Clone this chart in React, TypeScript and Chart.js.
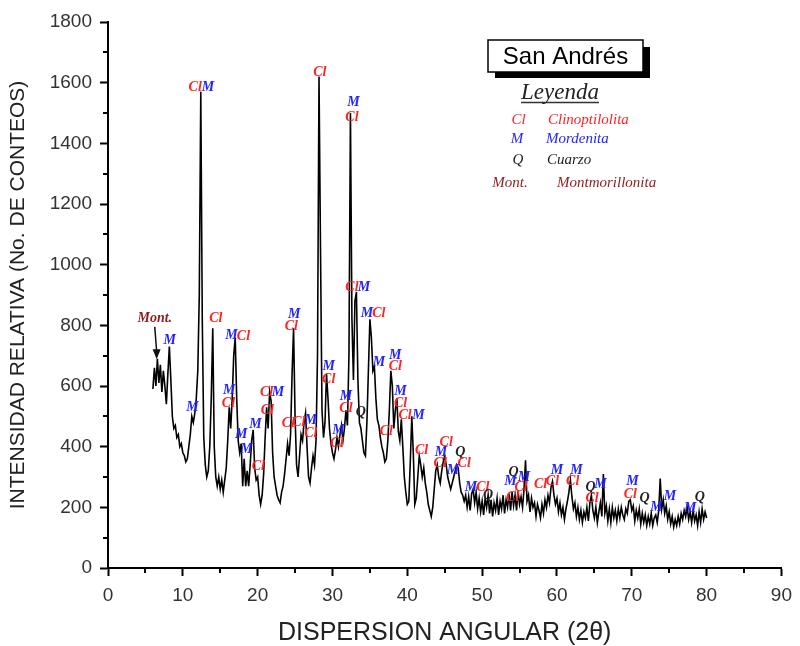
import React, { useEffect, useRef } from 'react';
import { Chart, registerables } from 'chart.js';

Chart.register(...registerables);

// XRD scan: start angle and step (2θ), counts, one row = 2°
const scanStart = 6.0;
const scanStep = 0.2;
const counts: number[] = [
  590, 660, 600, 690, 610, 670, 580, 650, 600, 540, // 6
  640, 730, 620, 500, 460, 470, 430, 440, 400, 410, // 8
  380, 370, 350, 360, 400, 440, 500, 480, 510, 560, // 10
  650, 900, 1570, 820, 430, 340, 300, 320, 400, 560, // 12
  790, 400, 300, 270, 300, 260, 290, 250, 290, 330, // 14
  420, 530, 460, 560, 700, 760, 560, 420, 380, 410, // 16
  270, 360, 270, 320, 270, 340, 420, 455, 330, 290, // 18
  300, 240, 210, 240, 310, 430, 530, 460, 580, 550, // 20
  380, 300, 270, 240, 225, 215, 250, 270, 310, 360, // 22
  410, 370, 440, 640, 790, 500, 340, 300, 370, 440, // 24
  420, 480, 510, 400, 300, 280, 330, 370, 340, 420, // 26
  700, 1620, 1050, 520, 430, 480, 640, 560, 460, 410, // 28
  380, 360, 390, 430, 400, 440, 470, 420, 460, 520, // 30
  470, 700, 1500, 820, 620, 880, 910, 620, 480, 460, // 32
  420, 380, 370, 480, 650, 820, 760, 650, 665, 560, // 34
  490, 470, 430, 400, 380, 350, 360, 420, 520, 650, // 36
  600, 460, 520, 560, 450, 420, 490, 400, 300, 250, // 38
  210, 220, 350, 500, 380, 210, 230, 300, 370, 340, // 40
  300, 330, 280, 250, 210, 190, 170, 200, 260, 320, // 42
  340, 300, 280, 320, 350, 370, 340, 300, 280, 260, // 44
  280, 300, 320, 340, 330, 280, 250, 240, 220, 240, // 46
  200, 235, 190, 245, 260, 215, 250, 195, 230, 185, // 48
  220, 175, 230, 200, 240, 180, 225, 170, 215, 190, // 50
  230, 175, 220, 195, 240, 180, 225, 200, 245, 190, // 52
  250, 205, 240, 190, 255, 210, 235, 200, 260, 355, // 54
  220, 240, 185, 230, 200, 215, 170, 210, 190, 165, // 56
  210, 180, 225, 200, 240, 215, 265, 285, 240, 210, // 58
  230, 185, 215, 175, 200, 160, 195, 220, 250, 290, // 60
  235, 195, 215, 170, 200, 160, 190, 150, 185, 165, // 62
  200, 155, 215, 240, 190, 165, 200, 150, 185, 215, // 64
  170, 310, 180, 205, 155, 195, 150, 200, 165, 190, // 66
  155, 195, 165, 200, 175, 160, 195, 180, 220, 225, // 68
  190, 205, 155, 190, 165, 195, 145, 180, 150, 175, // 70
  140, 170, 145, 180, 140, 165, 175, 150, 190, 295, // 72
  195, 225, 180, 205, 160, 185, 145, 170, 135, 160, // 74
  140, 170, 145, 180, 160, 190, 170, 200, 160, 185, // 76
  150, 190, 155, 175, 140, 185, 150, 195, 160, 185, // 78
  165, // 80
];

const xMinorTicks = [5, 15, 25, 35, 45, 55, 65, 75, 85];
const yMinorTicks = [100, 300, 500, 700, 900, 1100, 1300, 1500, 1700];

// phase labels: [text, 2θ, counts, phase]
const peakLabels: [string, number, number, string][] = [
  ['Mont.', 6.25, 824, 'mont'],
  ['M', 8.25, 752, 'M'],
  ['M', 11.3, 531, 'M'],
  ['Cl', 11.65, 1586, 'Cl'], ['M', 13.35, 1586, 'M'],
  ['Cl', 14.4, 824, 'Cl'],
  ['M', 16.5, 768, 'M'], ['Cl', 18.1, 762, 'Cl'],
  ['M', 16.2, 587, 'M'], ['Cl', 16.1, 544, 'Cl'],
  ['M', 17.8, 442, 'M'], ['M', 18.5, 392, 'M'], ['M', 19.7, 475, 'M'], ['Cl', 20.1, 336, 'Cl'],
  ['Cl', 21.2, 580, 'Cl'], ['M', 22.7, 580, 'M'],
  ['Cl', 21.3, 518, 'Cl'],
  ['Cl', 24.1, 478, 'Cl'], ['Cl', 25.5, 481, 'Cl'], ['M', 27.1, 488, 'M'],
  ['Cl', 27.1, 445, 'Cl'],
  ['M', 24.9, 837, 'M'], ['Cl', 24.5, 798, 'Cl'],
  ['Cl', 28.3, 1635, 'Cl'],
  ['M', 32.8, 1536, 'M'], ['Cl', 32.6, 1484, 'Cl'],
  ['Cl', 32.6, 926, 'Cl'], ['M', 34.2, 926, 'M'],
  ['M', 34.6, 841, 'M'], ['Cl', 36.2, 841, 'Cl'],
  ['M', 36.2, 679, 'M'],
  ['M', 29.5, 663, 'M'], ['Cl', 29.5, 623, 'Cl'],
  ['M', 30.8, 455, 'M'], ['Cl', 30.6, 412, 'Cl'],
  ['M', 31.8, 567, 'M'], ['Cl', 31.8, 527, 'Cl'],
  ['Q', 33.8, 514, 'Q'],
  ['Cl', 37.2, 452, 'Cl'],
  ['M', 38.4, 702, 'M'], ['Cl', 38.4, 663, 'Cl'],
  ['M', 39.1, 583, 'M'], ['Cl', 39.1, 544, 'Cl'],
  ['Cl', 39.7, 504, 'Cl'], ['M', 41.5, 504, 'M'],
  ['Cl', 41.9, 389, 'Cl'],
  ['Cl', 45.2, 415, 'Cl'],
  ['M', 44.5, 382, 'M'], ['Cl', 44.4, 346, 'Cl'],
  ['Q', 47.1, 382, 'Q'],
  ['Cl', 47.6, 346, 'Cl'],
  ['M', 46.1, 323, 'M'],
  ['M', 48.5, 267, 'M'], ['Cl', 50.1, 267, 'Cl'],
  ['Q', 50.8, 241, 'Q'],
  ['Q', 54.2, 316, 'Q'], ['M', 55.6, 300, 'M'], ['M', 53.8, 284, 'M'], ['Cl', 55.2, 267, 'Cl'], ['Cl', 54.1, 234, 'Cl'],
  ['Cl', 57.8, 274, 'Cl'],
  ['M', 60.0, 323, 'M'], ['Cl', 59.4, 284, 'Cl'],
  ['M', 62.6, 323, 'M'], ['Cl', 62.1, 284, 'Cl'],
  ['Q', 64.5, 267, 'Q'], ['M', 65.8, 274, 'M'], ['Cl', 64.7, 231, 'Cl'],
  ['M', 70.1, 284, 'M'], ['Cl', 69.8, 244, 'Cl'], ['Q', 71.7, 231, 'Q'],
  ['M', 73.3, 201, 'M'], ['M', 75.1, 237, 'M'], ['M', 77.8, 198, 'M'], ['Q', 79.1, 234, 'Q'],
];

// arrow from the "Mont." label down to the pattern: [x0, y0, x1, y1]
const montArrow = [6.25, 795, 6.5, 688];

const legendRows: [string, string, string][] = [
  ['Cl', 'Clinoptilolita', 'Cl'],
  ['M', 'Mordenita', 'M'],
  ['Q', 'Cuarzo', 'Q'],
  ['Mont.', 'Montmorillonita', 'mont'],
];

const phaseColors: Record<string, string> = {
  Cl: '#ff2323',
  M: '#2323ff',
  Q: '#222222',
  mont: '#8c1e1e',
};

const SERIF = '"Liberation Serif", "Times New Roman", serif';
const SANS = '"Liberation Sans", Arial, sans-serif';

const overlayPlugin = {
  id: 'overlay',
  afterDraw(chart: any) {
    const { ctx } = chart;
    const xs = chart.scales.x;
    const ys = chart.scales.y;
    ctx.save();
    // minor ticks
    ctx.strokeStyle = '#000';
    ctx.lineWidth = 2;
    for (const v of xMinorTicks) {
      const px = Math.round(xs.getPixelForValue(v));
      ctx.beginPath();
      ctx.moveTo(px, ys.bottom);
      ctx.lineTo(px, ys.bottom + 5);
      ctx.stroke();
    }
    for (const v of yMinorTicks) {
      const py = Math.round(ys.getPixelForValue(v));
      ctx.beginPath();
      ctx.moveTo(xs.left, py);
      ctx.lineTo(xs.left - 5, py);
      ctx.stroke();
    }

    // arrow
    const ax0 = xs.getPixelForValue(montArrow[0]);
    const ay0 = ys.getPixelForValue(montArrow[1]);
    const ax1 = xs.getPixelForValue(montArrow[2]);
    const ay1 = ys.getPixelForValue(montArrow[3]);
    ctx.strokeStyle = '#111';
    ctx.fillStyle = '#111';
    ctx.lineWidth = 1.5;
    ctx.beginPath();
    ctx.moveTo(ax0, ay0);
    ctx.lineTo(ax1, ay1 - 8);
    ctx.stroke();
    ctx.beginPath();
    ctx.moveTo(ax1, ay1);
    ctx.lineTo(ax1 - 4, ay1 - 10);
    ctx.lineTo(ax1 + 4, ay1 - 10);
    ctx.closePath();
    ctx.fill();

    // peak labels
    ctx.textAlign = 'center';
    ctx.textBaseline = 'middle';
    for (const [t, x, y, ph] of peakLabels) {
      ctx.font = `italic bold 14px ${SERIF}`;
      ctx.fillStyle = phaseColors[ph];
      ctx.fillText(t, xs.getPixelForValue(x), ys.getPixelForValue(y));
    }

    // title box
    ctx.fillStyle = '#000';
    ctx.fillRect(495, 47, 155, 31);
    ctx.fillStyle = '#fff';
    ctx.fillRect(488, 40, 155, 32);
    ctx.strokeStyle = '#000';
    ctx.lineWidth = 1.5;
    ctx.strokeRect(488, 40, 155, 32);
    ctx.fillStyle = '#000';
    ctx.font = `24px ${SANS}`;
    ctx.textAlign = 'center';
    ctx.textBaseline = 'middle';
    ctx.fillText('San Andrés', 565.5, 57);

    // Leyenda
    ctx.font = `italic 23px ${SERIF}`;
    ctx.fillStyle = '#222';
    ctx.textAlign = 'center';
    ctx.textBaseline = 'alphabetic';
    ctx.fillText('Leyenda', 560, 99);
    const lw = ctx.measureText('Leyenda').width;
    ctx.strokeStyle = '#333';
    ctx.lineWidth = 1.3;
    ctx.beginPath();
    ctx.moveTo(560 - lw / 2, 102.5);
    ctx.lineTo(560 + lw / 2, 102.5);
    ctx.stroke();

    const rowY = [120.5, 139.5, 160, 183];
    const symX = [518.5, 517, 518, 510];
    const nameX = [548, 546, 547, 557];
    ctx.textBaseline = 'middle';
    legendRows.forEach(([sym, name, ph], i) => {
      ctx.fillStyle = phaseColors[ph];
      ctx.font = `italic 15px ${SERIF}`;
      ctx.textAlign = 'center';
      ctx.fillText(sym, symX[i], rowY[i]);
      ctx.textAlign = 'left';
      ctx.fillText(name, nameX[i], rowY[i]);
    });
    ctx.restore();
  },
};

export default function App() {
  const ref = useRef<HTMLCanvasElement | null>(null);
  useEffect(() => {
    if (!ref.current) return;
    const points = counts.map((c, i) => ({ x: +(scanStart + i * scanStep).toFixed(2), y: c }));
    const chart = new Chart(ref.current, {
      type: 'line',
      data: {
        datasets: [
          {
            data: points,
            borderColor: '#000',
            borderWidth: 1.6,
            pointRadius: 0,
            tension: 0,
            fill: false,
          },
        ],
      },
      options: {
        animation: false,
        responsive: false,
        events: [],
        layout: { padding: { top: 22, right: 15, left: 0, bottom: 0 } },
        plugins: { legend: { display: false }, tooltip: { enabled: false } },
        scales: {
          x: {
            type: 'linear',
            min: 0,
            max: 90,
            afterFit: (s: any) => { s.height = 78; },
            ticks: {
              stepSize: 10,
              maxRotation: 0,
              padding: 8,
              color: '#333',
              font: { family: SANS, size: 19 },
              callback: (v: any) => String(v),
            },
            grid: { drawOnChartArea: false, drawTicks: true, tickLength: 8, tickWidth: 2, tickColor: '#000' },
            border: { color: '#000', width: 2 },
            title: {
              display: true,
              text: 'DISPERSION ANGULAR (2θ)',
              color: '#222',
              font: { family: SANS, size: 25, lineHeight: 1 },
              padding: { top: 0, bottom: 0 },
            },
          },
          y: {
            type: 'linear',
            min: 0,
            max: 1800,
            afterFit: (s: any) => { s.width = 108; },
            ticks: {
              stepSize: 200,
              padding: 8,
              color: '#333',
              font: { family: SANS, size: 19 },
              callback: (v: any) => String(v),
            },
            grid: { drawOnChartArea: false, drawTicks: true, tickLength: 8, tickWidth: 2, tickColor: '#000' },
            border: { color: '#000', width: 2 },
            title: {
              display: true,
              text: 'INTENSIDAD RELATIVA (No. DE CONTEOS)',
              color: '#222',
              font: { family: SANS, size: 21, lineHeight: 1 },
              padding: { top: 8, bottom: 0 },
            },
          },
        },
      },
      plugins: [overlayPlugin],
    });
    return () => chart.destroy();
  }, []);
  return (
    <div style={{ position: 'absolute', left: 0, top: 0, width: 800, height: 646, background: '#fff' }}>
      <canvas ref={ref} width={800} height={646} style={{ display: 'block' }} />
    </div>
  );
}
